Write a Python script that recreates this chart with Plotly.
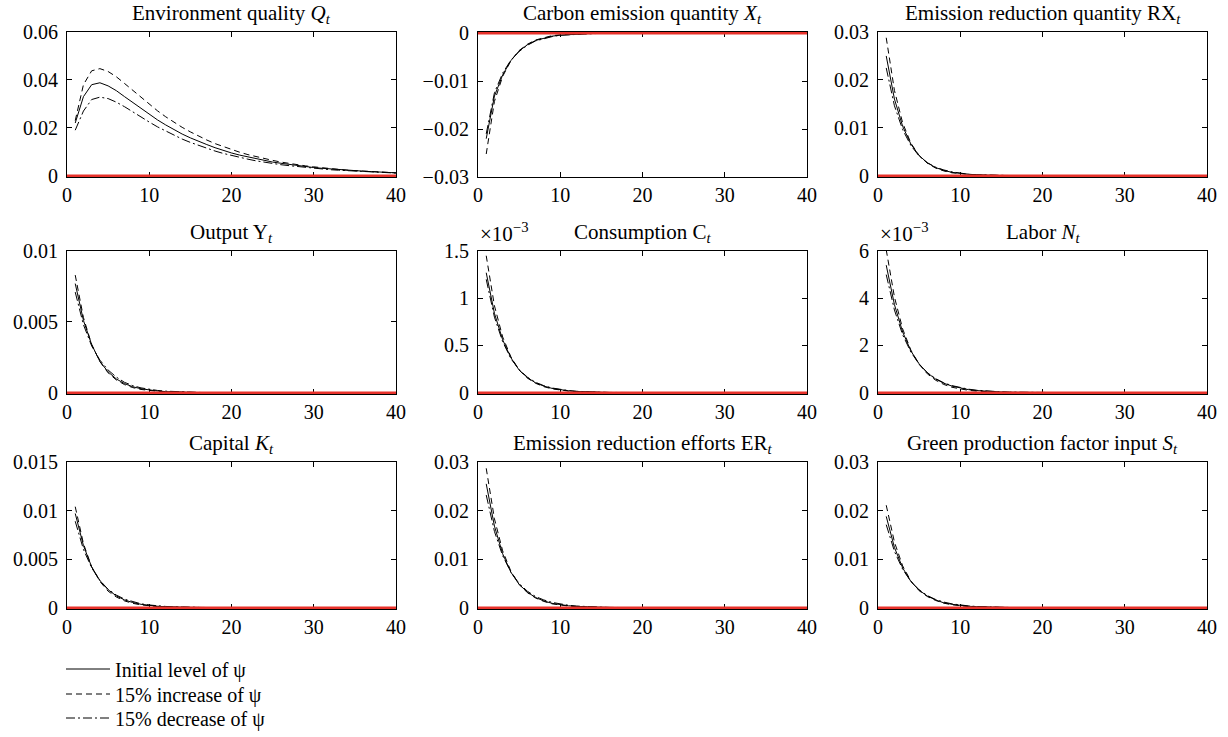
import plotly.graph_objects as go

# ---------------- data ----------------
periods = list(range(1, 41))

# Environment quality Q_t
q_initial = [0.0220, 0.0330, 0.0380, 0.0388, 0.0375, 0.0355, 0.0330, 0.0305, 0.0280, 0.0256,
             0.0233, 0.0212, 0.0192, 0.0174, 0.0158, 0.0143, 0.0130, 0.0117, 0.0105, 0.0095,
             0.0086, 0.0078, 0.0070, 0.0063, 0.0057, 0.0052, 0.0047, 0.0042, 0.0038, 0.0034,
             0.0031, 0.0028, 0.0025, 0.0023, 0.0021, 0.0019, 0.0017, 0.0015, 0.0014, 0.0012]
q_increase = [0.0230, 0.0380, 0.0438, 0.0447, 0.0435, 0.0413, 0.0385, 0.0356, 0.0326, 0.0298,
              0.0271, 0.0246, 0.0223, 0.0202, 0.0183, 0.0165, 0.0149, 0.0134, 0.0121, 0.0109,
              0.0098, 0.0088, 0.0079, 0.0071, 0.0064, 0.0057, 0.0051, 0.0046, 0.0041, 0.0037,
              0.0033, 0.0029, 0.0026, 0.0023, 0.0021, 0.0019, 0.0017, 0.0015, 0.0013, 0.0012]
q_decrease = [0.0190, 0.0270, 0.0318, 0.0328, 0.0322, 0.0307, 0.0288, 0.0266, 0.0245, 0.0224,
              0.0204, 0.0186, 0.0169, 0.0153, 0.0139, 0.0126, 0.0114, 0.0103, 0.0093, 0.0084,
              0.0076, 0.0069, 0.0062, 0.0056, 0.0051, 0.0046, 0.0042, 0.0038, 0.0034, 0.0031,
              0.0028, 0.0025, 0.0023, 0.0021, 0.0019, 0.0017, 0.0015, 0.0014, 0.0013, 0.0011]

# Carbon emission quantity X_t
x_initial = [-0.0220, -0.0131, -0.0087, -0.0057, -0.0037, -0.0024, -0.0015, -0.0010, -0.0006, -0.0004,
             -0.00025, -0.00015, -0.0001, -0.00005, 0, 0, 0, 0, 0, 0,
             0, 0, 0, 0, 0, 0, 0, 0, 0, 0, 0, 0, 0, 0, 0, 0, 0, 0, 0, 0]
x_increase = [-0.0252, -0.0142, -0.0090, -0.0057, -0.0036, -0.0023, -0.0014, -0.0009, -0.0005, -0.0003,
              -0.0002, -0.0001, -0.00005, 0, 0, 0, 0, 0, 0, 0,
              0, 0, 0, 0, 0, 0, 0, 0, 0, 0, 0, 0, 0, 0, 0, 0, 0, 0, 0, 0]
x_decrease = [-0.0210, -0.0124, -0.0083, -0.0056, -0.0038, -0.0025, -0.0016, -0.0011, -0.0007, -0.0004,
              -0.0003, -0.0002, -0.0001, -0.00005, 0, 0, 0, 0, 0, 0,
              0, 0, 0, 0, 0, 0, 0, 0, 0, 0, 0, 0, 0, 0, 0, 0, 0, 0, 0, 0]

# Emission reduction quantity RX_t
rx_initial = [0.0250, 0.0160, 0.0103, 0.0066, 0.0042, 0.0027, 0.0017, 0.0011, 0.0007, 0.00045,
              0.0003, 0.0002, 0.0001, 0.00006, 0.00003, 0, 0, 0, 0, 0,
              0, 0, 0, 0, 0, 0, 0, 0, 0, 0, 0, 0, 0, 0, 0, 0, 0, 0, 0, 0]
rx_increase = [0.0288, 0.0178, 0.0110, 0.0068, 0.0042, 0.0026, 0.0016, 0.0010, 0.0006, 0.0004,
               0.00025, 0.00015, 0.0001, 0.00005, 0.00003, 0, 0, 0, 0, 0,
               0, 0, 0, 0, 0, 0, 0, 0, 0, 0, 0, 0, 0, 0, 0, 0, 0, 0, 0, 0]
rx_decrease = [0.0225, 0.0146, 0.0096, 0.0063, 0.0041, 0.0027, 0.0018, 0.0012, 0.0008, 0.0005,
               0.0003, 0.0002, 0.00013, 0.00008, 0.00005, 0, 0, 0, 0, 0,
               0, 0, 0, 0, 0, 0, 0, 0, 0, 0, 0, 0, 0, 0, 0, 0, 0, 0, 0, 0]

# Output Y_t
y_initial = [0.0077, 0.0051, 0.0034, 0.0022, 0.00147, 0.00097, 0.00064, 0.00042, 0.00028, 0.00018,
             0.00012, 0.00008, 0.00005, 0.00003, 0.00002, 0.00001, 0, 0, 0, 0,
             0, 0, 0, 0, 0, 0, 0, 0, 0, 0, 0, 0, 0, 0, 0, 0, 0, 0, 0, 0]
y_increase = [0.0083, 0.0053, 0.0034, 0.0022, 0.0014, 0.0009, 0.00057, 0.00036, 0.00023, 0.00015,
              0.0001, 0.00006, 0.00004, 0.00002, 0.00001, 0, 0, 0, 0, 0,
              0, 0, 0, 0, 0, 0, 0, 0, 0, 0, 0, 0, 0, 0, 0, 0, 0, 0, 0, 0]
y_decrease = [0.0071, 0.0048, 0.0033, 0.0023, 0.0016, 0.0011, 0.00073, 0.0005, 0.00034, 0.00024,
              0.00016, 0.00011, 0.00008, 0.00005, 0.00003, 0.00002, 0, 0, 0, 0,
              0, 0, 0, 0, 0, 0, 0, 0, 0, 0, 0, 0, 0, 0, 0, 0, 0, 0, 0, 0]

# Consumption C_t  (units of 1e-3)
c_initial = [1.27, 0.84, 0.56, 0.37, 0.24, 0.16, 0.105, 0.07, 0.046, 0.03,
             0.02, 0.013, 0.009, 0.006, 0.004, 0.002, 0.001, 0, 0, 0,
             0, 0, 0, 0, 0, 0, 0, 0, 0, 0, 0, 0, 0, 0, 0, 0, 0, 0, 0, 0]
c_increase = [1.45, 0.92, 0.59, 0.38, 0.24, 0.155, 0.10, 0.064, 0.041, 0.026,
              0.017, 0.011, 0.007, 0.004, 0.003, 0.002, 0.001, 0, 0, 0,
              0, 0, 0, 0, 0, 0, 0, 0, 0, 0, 0, 0, 0, 0, 0, 0, 0, 0, 0, 0]
c_decrease = [1.20, 0.80, 0.54, 0.36, 0.245, 0.165, 0.11, 0.075, 0.05, 0.034,
              0.023, 0.015, 0.01, 0.007, 0.005, 0.003, 0.002, 0, 0, 0,
              0, 0, 0, 0, 0, 0, 0, 0, 0, 0, 0, 0, 0, 0, 0, 0, 0, 0, 0, 0]

# Labor N_t  (units of 1e-3)
n_initial = [5.40, 3.73, 2.57, 1.77, 1.22, 0.84, 0.58, 0.40, 0.28, 0.19,
             0.13, 0.09, 0.06, 0.04, 0.03, 0.02, 0.014, 0.01, 0.007, 0.005,
             0, 0, 0, 0, 0, 0, 0, 0, 0, 0, 0, 0, 0, 0, 0, 0, 0, 0, 0, 0]
n_increase = [6.05, 4.05, 2.70, 1.80, 1.20, 0.80, 0.53, 0.35, 0.23, 0.15,
              0.10, 0.066, 0.044, 0.029, 0.019, 0.012, 0.008, 0.005, 0.003, 0.002,
              0, 0, 0, 0, 0, 0, 0, 0, 0, 0, 0, 0, 0, 0, 0, 0, 0, 0, 0, 0]
n_decrease = [5.00, 3.50, 2.45, 1.72, 1.21, 0.85, 0.60, 0.42, 0.30, 0.21,
              0.15, 0.105, 0.074, 0.052, 0.037, 0.026, 0.018, 0.013, 0.009, 0.006,
              0, 0, 0, 0, 0, 0, 0, 0, 0, 0, 0, 0, 0, 0, 0, 0, 0, 0, 0, 0]

# Capital K_t
k_initial = [0.0097, 0.0064, 0.0042, 0.0028, 0.00185, 0.00122, 0.0008, 0.00053, 0.00035, 0.00023,
             0.00015, 0.0001, 0.00007, 0.00004, 0.00003, 0.00002, 0, 0, 0, 0,
             0, 0, 0, 0, 0, 0, 0, 0, 0, 0, 0, 0, 0, 0, 0, 0, 0, 0, 0, 0]
k_increase = [0.0104, 0.0066, 0.0042, 0.0027, 0.0017, 0.0011, 0.0007, 0.00045, 0.00029, 0.00018,
              0.00012, 0.00007, 0.00005, 0.00003, 0.00002, 0.00001, 0, 0, 0, 0,
              0, 0, 0, 0, 0, 0, 0, 0, 0, 0, 0, 0, 0, 0, 0, 0, 0, 0, 0, 0]
k_decrease = [0.0089, 0.0060, 0.0041, 0.0028, 0.0019, 0.0013, 0.00088, 0.0006, 0.0004, 0.00028,
              0.00019, 0.00013, 0.00009, 0.00006, 0.00004, 0.00003, 0, 0, 0, 0,
              0, 0, 0, 0, 0, 0, 0, 0, 0, 0, 0, 0, 0, 0, 0, 0, 0, 0, 0, 0]

# Emission reduction efforts ER_t
er_initial = [0.0255, 0.0168, 0.0111, 0.0073, 0.0048, 0.0032, 0.0021, 0.0014, 0.0009, 0.0006,
              0.0004, 0.00026, 0.00017, 0.00011, 0.00007, 0.00005, 0, 0, 0, 0,
              0, 0, 0, 0, 0, 0, 0, 0, 0, 0, 0, 0, 0, 0, 0, 0, 0, 0, 0, 0]
er_increase = [0.0287, 0.0183, 0.0117, 0.0075, 0.0048, 0.0031, 0.0020, 0.0013, 0.0008, 0.0005,
               0.00033, 0.00021, 0.00013, 0.00008, 0.00005, 0.00003, 0, 0, 0, 0,
               0, 0, 0, 0, 0, 0, 0, 0, 0, 0, 0, 0, 0, 0, 0, 0, 0, 0, 0, 0]
er_decrease = [0.0232, 0.0157, 0.0107, 0.0073, 0.0050, 0.0034, 0.0023, 0.0016, 0.0011, 0.00074,
               0.0005, 0.00034, 0.00023, 0.00016, 0.00011, 0.00007, 0, 0, 0, 0,
               0, 0, 0, 0, 0, 0, 0, 0, 0, 0, 0, 0, 0, 0, 0, 0, 0, 0, 0, 0]

# Green production factor input S_t
s_initial = [0.0188, 0.0124, 0.0082, 0.0054, 0.0036, 0.0024, 0.0016, 0.0010, 0.0007, 0.00045,
             0.0003, 0.0002, 0.00013, 0.00009, 0.00006, 0.00004, 0, 0, 0, 0,
             0, 0, 0, 0, 0, 0, 0, 0, 0, 0, 0, 0, 0, 0, 0, 0, 0, 0, 0, 0]
s_increase = [0.0211, 0.0135, 0.0086, 0.0055, 0.0035, 0.0023, 0.0015, 0.00094, 0.0006, 0.00038,
              0.00024, 0.00016, 0.0001, 0.00006, 0.00004, 0.00003, 0, 0, 0, 0,
              0, 0, 0, 0, 0, 0, 0, 0, 0, 0, 0, 0, 0, 0, 0, 0, 0, 0, 0, 0]
s_decrease = [0.0171, 0.0116, 0.0079, 0.0054, 0.0037, 0.0025, 0.0017, 0.00116, 0.00079, 0.00054,
              0.00037, 0.00025, 0.00017, 0.00012, 0.00008, 0.00005, 0, 0, 0, 0,
              0, 0, 0, 0, 0, 0, 0, 0, 0, 0, 0, 0, 0, 0, 0, 0, 0, 0, 0, 0]

# steady state (zero deviation) line
baseline_x = [0, 40]
baseline_y = [0, 0]

x_ticks = [0, 10, 20, 30, 40]

series_names = ["Initial level of \u03c8", "15% increase of \u03c8", "15% decrease of \u03c8"]

panels = [
    dict(title="Environment quality <i>Q</i><sub><i>t</i></sub>",
         data=(q_initial, q_increase, q_decrease), yr=(0, 0.06),
         yt=[0, 0.02, 0.04, 0.06], yl=["0", "0.02", "0.04", "0.06"], expo=None),
    dict(title="Carbon emission quantity <i>X</i><sub><i>t</i></sub>",
         data=(x_initial, x_increase, x_decrease), yr=(-0.03, 0),
         yt=[-0.03, -0.02, -0.01, 0], yl=["\u22120.03", "\u22120.02", "\u22120.01", "0"], expo=None),
    dict(title="Emission reduction quantity RX<sub><i>t</i></sub>",
         data=(rx_initial, rx_increase, rx_decrease), yr=(0, 0.03),
         yt=[0, 0.01, 0.02, 0.03], yl=["0", "0.01", "0.02", "0.03"], expo=None),
    dict(title="Output Y<sub><i>t</i></sub>",
         data=(y_initial, y_increase, y_decrease), yr=(0, 0.01),
         yt=[0, 0.005, 0.01], yl=["0", "0.005", "0.01"], expo=None),
    dict(title="Consumption C<sub><i>t</i></sub>",
         data=(c_initial, c_increase, c_decrease), yr=(0, 1.5),
         yt=[0, 0.5, 1, 1.5], yl=["0", "0.5", "1", "1.5"], expo="\u00d710<sup>\u22123</sup>"),
    dict(title="Labor <i>N</i><sub><i>t</i></sub>",
         data=(n_initial, n_increase, n_decrease), yr=(0, 6),
         yt=[0, 2, 4, 6], yl=["0", "2", "4", "6"], expo="\u00d710<sup>\u22123</sup>"),
    dict(title="Capital <i>K</i><sub><i>t</i></sub>",
         data=(k_initial, k_increase, k_decrease), yr=(0, 0.015),
         yt=[0, 0.005, 0.01, 0.015], yl=["0", "0.005", "0.01", "0.015"], expo=None),
    dict(title="Emission reduction efforts ER<sub><i>t</i></sub>",
         data=(er_initial, er_increase, er_decrease), yr=(0, 0.03),
         yt=[0, 0.01, 0.02, 0.03], yl=["0", "0.01", "0.02", "0.03"], expo=None),
    dict(title="Green production factor input <i>S</i><sub><i>t</i></sub>",
         data=(s_initial, s_increase, s_decrease), yr=(0, 0.03),
         yt=[0, 0.01, 0.02, 0.03], yl=["0", "0.01", "0.02", "0.03"], expo=None),
]

# ---------------- layout geometry (pixels) ----------------
W, H = 1228, 737
col_px = [(67, 396), (478, 807), (878, 1207)]
row_px = [(32, 177), (251, 394), (462, 609)]
legend_rows_px = [669, 694, 718]
legend_left_px = 61

FONT = "Liberation Serif"
TICK_SIZE = 20
TITLE_SIZE = 21
LEGEND_SIZE = 20
RED = "#e8322b"
dashes = ["solid", "6px,4px", "9px,3px,2px,3px"]
legend_ids = ["legend", "legend2", "legend3"]

fig = go.Figure()
annotations = []
layout_axes = {}

for i, p in enumerate(panels):
    r, c = divmod(i, 3)
    x0, x1 = col_px[c]
    y0, y1 = row_px[r]
    n = i + 1
    xa = "x" if n == 1 else f"x{n}"
    ya = "y" if n == 1 else f"y{n}"
    xkey = "xaxis" if n == 1 else f"xaxis{n}"
    ykey = "yaxis" if n == 1 else f"yaxis{n}"

    for k, series in enumerate(p["data"]):
        fig.add_trace(go.Scatter(
            x=periods, y=series, mode="lines", xaxis=xa, yaxis=ya,
            line=dict(color="black", width=1, dash=dashes[k]),
            name=series_names[k], showlegend=(i == 0), legend=legend_ids[k],
        ))
    fig.add_trace(go.Scatter(
        x=baseline_x, y=baseline_y, mode="lines", xaxis=xa, yaxis=ya,
        line=dict(color=RED, width=2.6), showlegend=False, hoverinfo="skip",
    ))

    lo, hi = p["yr"]
    hpx = y1 - y0
    pad = (hi - lo) * 1.3 / hpx
    yrange = [lo - pad, hi] if lo == 0 else [lo, hi + pad]

    common = dict(showline=True, linecolor="black", linewidth=1.2, mirror="ticks",
                  ticks="inside", ticklen=5, tickwidth=1, tickcolor="black",
                  showgrid=False, zeroline=False, layer="below traces",
                  tickfont=dict(family=FONT, size=TICK_SIZE, color="black"))
    layout_axes[xkey] = dict(common, domain=[x0 / W, x1 / W], range=[0, 40],
                             tickvals=x_ticks, ticktext=[str(v) for v in x_ticks],
                             anchor=ya)
    layout_axes[ykey] = dict(common, domain=[1 - y1 / H, 1 - y0 / H], range=yrange,
                             tickvals=p["yt"], ticktext=p["yl"], anchor=xa,
                             ticklabelstandoff=4)

    annotations.append(dict(
        text=p["title"], x=(x0 + x1) / 2 / W, y=1 - y0 / H, xref="paper", yref="paper",
        xanchor="center", yanchor="bottom", yshift=3, showarrow=False,
        font=dict(family=FONT, size=TITLE_SIZE, color="black")))
    if p["expo"]:
        annotations.append(dict(
            text=p["expo"], x=x0 / W, y=1 - y0 / H, xref="paper", yref="paper",
            xanchor="left", yanchor="bottom", yshift=3, showarrow=False,
            font=dict(family=FONT, size=TITLE_SIZE, color="black")))

legend_layout = {}
for k, lid in enumerate(legend_ids):
    legend_layout[lid] = dict(
        x=legend_left_px / W, y=1 - legend_rows_px[k] / H, xanchor="left", yanchor="middle",
        font=dict(family=FONT, size=LEGEND_SIZE, color="black"),
        bgcolor="rgba(0,0,0,0)", borderwidth=0, itemwidth=44)

fig.update_layout(
    width=W, height=H,
    margin=dict(l=0, r=0, t=0, b=0, autoexpand=False),
    paper_bgcolor="white", plot_bgcolor="white",
    annotations=annotations,
    showlegend=True,
    **legend_layout,
    **layout_axes,
)

fig.write_html("out.html", config={"displayModeBar": False},
               post_script="document.body.style.margin='0';")
